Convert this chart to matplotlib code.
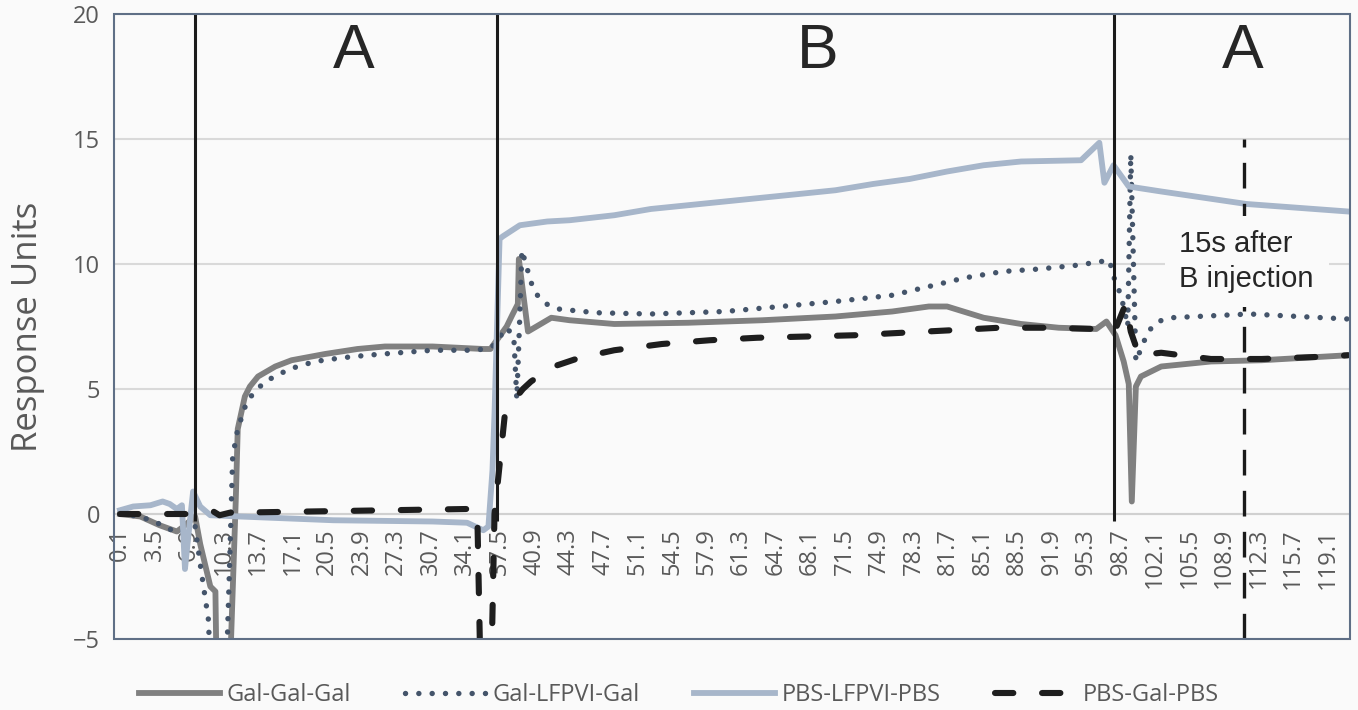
import matplotlib
matplotlib.use("Agg")
import matplotlib.pyplot as plt
from matplotlib.patches import Rectangle

plt.rcParams["font.family"] = ["Open Sans", "DejaVu Sans"]

# -------------------- data --------------------
gal_gal_x = [0.1, 2.1, 4.0, 5.7, 6.2, 7.5, 8.0, 9.0, 9.5, 9.6, 10.9, 11.0, 11.5, 11.7, 12.4,
             12.9, 13.7, 15.4, 17.0, 20.3, 23.5, 26.2, 30.9, 35.9, 36.6, 38.2, 38.8, 39.3,
             39.4, 40.3, 42.6, 44.4, 48.8, 56.1, 63.4, 70.6, 76.2, 79.8, 81.6, 85.2, 88.9,
             92.6, 96.3, 97.3, 98.2, 99.0, 99.5, 99.8, 100.2, 100.7, 102.7, 107.6, 112.6, 121.1]
gal_gal_y = [0.0, -0.1, -0.45, -0.7, -0.55, -0.1, -1.2, -2.9, -3.1, -6.0, -6.0, -5.5, 0.5, 3.4, 4.7,
             5.1, 5.5, 5.9, 6.15, 6.4, 6.6, 6.7, 6.7, 6.6, 6.6, 7.5, 8.0, 8.4,
             10.2, 7.3, 7.85, 7.75, 7.6, 7.65, 7.75, 7.9, 8.1, 8.3, 8.3, 7.85, 7.6,
             7.45, 7.4, 7.7, 7.15, 6.1, 5.2, 0.5, 5.1, 5.5, 5.9, 6.1, 6.15, 6.35]

gal_lfpvi_x = [0.1, 2.1, 4.0, 5.7, 7.5, 8.0, 8.8, 9.0, 10.6, 10.9, 11.2, 11.7, 12.6, 13.4,
               14.4, 15.6, 16.8, 19.3, 22.0, 24.5, 26.0, 30.9, 35.3, 36.8, 38.2, 38.9, 39.2,
               39.5, 39.7, 40.3, 40.7, 41.3, 42.3, 43.3, 47.0, 52.4, 59.7, 65.2, 70.6, 76.2,
               79.8, 83.4, 87.1, 90.7, 94.4, 97.6, 98.0, 98.5, 99.0, 99.4, 99.7, 100.2, 100.6,
               101.4, 102.4, 103.6, 111.4, 121.1]
gal_lfpvi_y = [0.0, -0.1, -0.4, -0.75, -0.5, -2.0, -4.2, -6.0, -6.0, -2.0, 2.3, 3.4, 4.5, 4.9,
               5.3, 5.55, 5.8, 6.1, 6.25, 6.35, 6.4, 6.55, 6.55, 6.7, 7.45, 7.1, 4.6,
               8.0, 10.55, 9.7, 9.15, 8.7, 8.35, 8.2, 8.05, 8.0, 8.1, 8.3, 8.5, 8.75,
               9.1, 9.45, 9.7, 9.8, 9.95, 10.15, 9.5, 9.0, 8.3, 7.5, 14.4, 6.1, 6.5,
               7.3, 7.7, 7.85, 8.0, 7.8]

pbs_lfpvi_x = [0.1, 1.4, 3.1, 4.3, 5.0, 5.7, 6.2, 6.5, 6.8, 7.3, 8.0, 9.0, 11.9, 21.1, 30.9,
               34.3, 35.9, 36.4, 36.8, 37.0, 37.5, 37.8, 39.5, 42.2, 44.4, 48.8, 52.4, 59.7,
               67.0, 70.6, 74.3, 77.9, 81.6, 85.2, 88.9, 94.8, 96.6, 97.1, 98.0, 99.5, 102.7,
               111.1, 121.1]
pbs_lfpvi_y = [0.15, 0.3, 0.35, 0.5, 0.4, 0.2, 0.35, -2.2, -1.0, 0.9, 0.3, -0.05, -0.1, -0.25, -0.3,
               -0.35, -0.65, -0.5, 1.75, 4.0, 11.0, 11.1, 11.55, 11.7, 11.75, 11.95, 12.2, 12.5,
               12.8, 12.95, 13.2, 13.4, 13.7, 13.95, 14.1, 14.15, 14.85, 13.25, 13.95, 13.1, 12.9,
               12.4, 12.1]

pbs_gal_x = [0.1, 7.5, 9.3, 9.9, 10.9, 34.3, 35.3, 35.6, 36.7, 37.0, 38.0, 39.0, 39.8, 40.6,
             41.5, 43.2, 45.4, 48.8, 53.5, 58.2, 62.9, 67.8, 72.5, 77.2, 82.0, 86.7, 91.4,
             96.3, 97.6, 98.2, 99.2, 99.7, 100.5, 102.7, 107.6, 112.6, 119.2, 121.1]
pbs_gal_y = [0.0, 0.0, 0.1, -0.05, 0.05, 0.2, 0.15, -6.0, -6.0, 0.0, 3.9, 4.6, 5.0, 5.3,
             5.55, 5.95, 6.25, 6.55, 6.8, 6.95, 7.05, 7.1, 7.15, 7.25, 7.35, 7.45, 7.45,
             7.4, 7.35, 7.4, 8.4, 7.3, 6.35, 6.45, 6.2, 6.2, 6.3, 6.35]

series_names = ["Gal-Gal-Gal", "Gal-LFPVI-Gal", "PBS-LFPVI-PBS", "PBS-Gal-PBS"]

x_tick_labels = ["0.1", "3.5", "6.9", "10.3", "13.7", "17.1", "20.5", "23.9", "27.3", "30.7",
                 "34.1", "37.5", "40.9", "44.3", "47.7", "51.1", "54.5", "57.9", "61.3", "64.7",
                 "68.1", "71.5", "74.9", "78.3", "81.7", "85.1", "88.5", "91.9", "95.3", "98.7",
                 "102.1", "105.5", "108.9", "112.3", "115.7", "119.1"]

# injection switch times and phase labels
switch_times = [7.5, 37.2, 98.0]
marker_time = 110.9
phase_labels = ["A", "B", "A"]
phase_centres = [23.1, 68.8, 110.7]

# -------------------- plot --------------------
bg = "#fafafa"
txt_grey = "#595959"

fig = plt.figure(figsize=(13.58, 7.10), dpi=100, facecolor=bg)
ax = fig.add_axes([0.0839, 0.1, 0.9102, 0.8803], facecolor=bg)

ax.plot(gal_gal_x, gal_gal_y, color="#808080", lw=4.2, label=series_names[0], zorder=3)
ax.plot(gal_lfpvi_x, gal_lfpvi_y, color="#44546a", lw=3.9, linestyle=(0, (0.01, 2.45)),
        dash_capstyle="round", label=series_names[1], zorder=3)
ax.plot(pbs_lfpvi_x, pbs_lfpvi_y, color="#a7b6ca", lw=4.2, label=series_names[2], zorder=3)
ax.plot(pbs_gal_x, pbs_gal_y, color="#1e1e1e", lw=4.4, linestyle=(0, (3.0, 4.7)),
        dash_capstyle="round", label=series_names[3], zorder=3)

# phase boundaries
ax.vlines(switch_times, -0.3, 20, colors="#1a1a1a", lw=2.2, zorder=4)
ax.vlines(marker_time, -5, 15, colors="#1a1a1a", lw=2.4, linestyles=[(0, (7.7, 4.6))], zorder=4)

for lab, xc in zip(phase_labels, phase_centres):
    ax.text(xc, 17.85, lab, ha="center", va="baseline", fontsize=45,
            family="Liberation Sans", color="#262626", zorder=5)

ax.text(104.5, 10.1, "15s after\nB injection", ha="left", va="center", fontsize=21,
        family="Liberation Sans", color="#262626", linespacing=1.3, zorder=6,
        bbox=dict(boxstyle="square,pad=0.5", facecolor=bg, edgecolor="none"))

# axes
ax.set_xlim(-0.5, 121.3)
ax.set_ylim(-5, 20)
ax.set_yticks([-5, 0, 5, 10, 15, 20])
ax.set_xticks([float(t) for t in x_tick_labels])
ax.set_xticklabels(x_tick_labels)
ax.tick_params(axis="both", length=0, labelsize=17, labelcolor=txt_grey, pad=10)
ax.tick_params(axis="x", labelrotation=90)

ax.yaxis.grid(True, color="#d9d9d9", lw=1.5, zorder=0)
ax.set_axisbelow(True)
for side in ["top", "left", "right"]:
    ax.spines[side].set_visible(False)
ax.spines["bottom"].set_position(("data", 0))
ax.spines["bottom"].set_color("#d0d0d0")
ax.spines["bottom"].set_linewidth(1.5)
ax.add_patch(Rectangle((0, 0), 1, 1, transform=ax.transAxes, fill=False,
                       edgecolor="#5f6f86", lw=1.5, zorder=7, clip_on=False))

ax.set_ylabel("Response Units", fontsize=25, color=txt_grey, va="center")
ax.yaxis.set_label_coords(-0.0696, 0.5)

leg = fig.legend(loc="center", bbox_to_anchor=(0.5, 0.021), ncol=4, frameon=False,
                 handlelength=3.4, handletextpad=0.3, columnspacing=2.3,
                 prop={"size": 17})
for t in leg.get_texts():
    t.set_color(txt_grey)

plt.savefig("out.png", dpi=100, facecolor=bg)
